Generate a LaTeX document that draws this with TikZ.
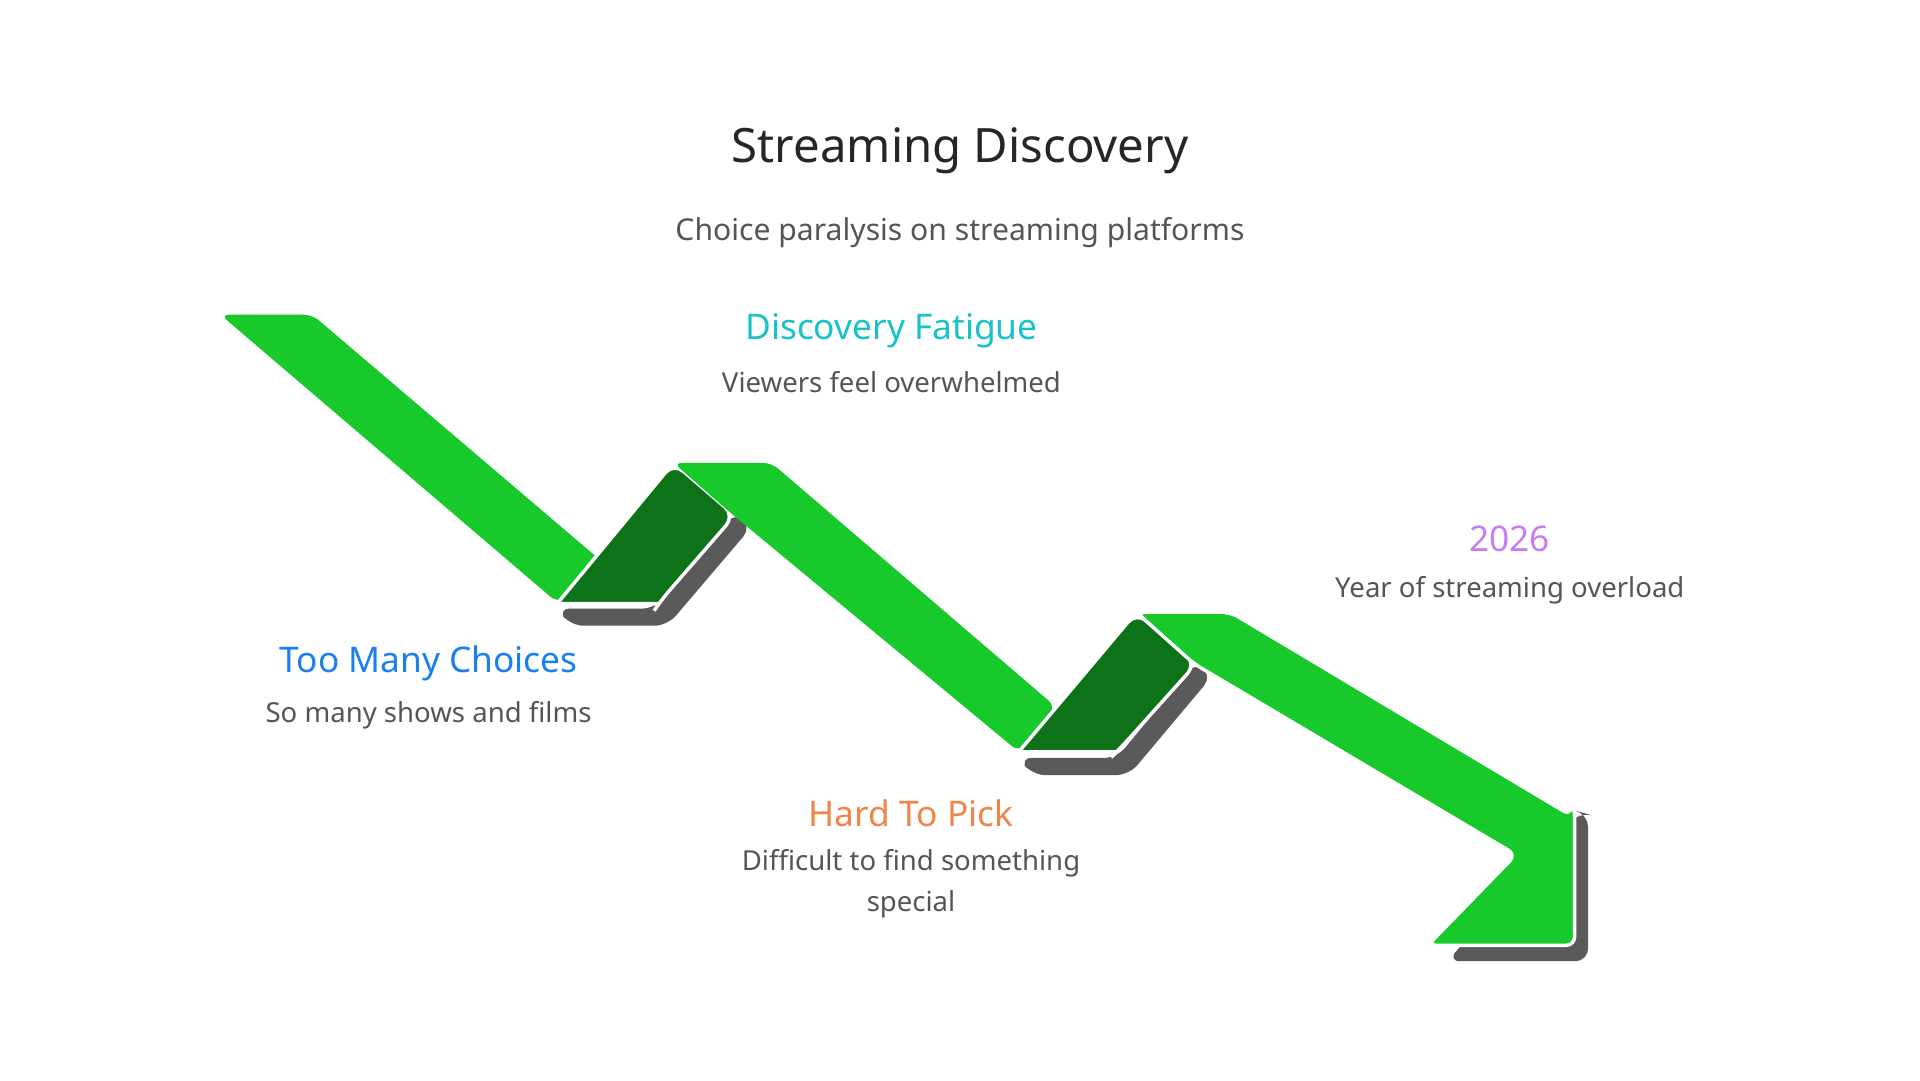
\documentclass[tikz,border=0pt]{standalone}
\usepackage{fontspec}
\setmainfont{Noto Sans}
\definecolor{gr}{HTML}{18C92C}
\definecolor{dg}{HTML}{0E7219}
\definecolor{sh}{HTML}{5A5A5A}
\definecolor{tx}{HTML}{555555}
\definecolor{cteal}{HTML}{17C3C8}
\definecolor{cblue}{HTML}{1A7FF0}
\definecolor{corange}{HTML}{F0844A}
\definecolor{cviolet}{HTML}{C77CF0}
\begin{document}
\begin{tikzpicture}[x=0.1mm,y=-0.1mm,
  band/.style={fill=gr,draw=none},
  fold/.style={fill=dg,draw=white,line width=0.8pt,rounded corners=3pt},
  shad/.style={fill=sh,draw=none,rounded corners=3pt},
  head/.style={font=\fontsize{8.2}{10}\selectfont\bfseries},
  body/.style={font=\fontsize{6.4}{9.5}\selectfont,text=tx,align=center}]
\useasboundingbox[fill=white] (0,0) rectangle (1568,882);
\node (title) at (784,123) {\fontsize{11}{13}\selectfont\color{black!85} Streaming Discovery};
\node (sub) at (784,190) {\fontsize{7}{9}\selectfont\color{tx} Choice paralysis on streaming platforms};
% band 1
\fill[band,rounded corners=2pt] (180,257) -- (255,257) -- (505,470) -- (455,492) -- cycle;
\fill[shad] (455,497) -- (466,511) -- (545,511) -- (614,430) -- (600,418) -- (535,497) -- cycle;
\filldraw[fold] (455,493) -- (550,378) -- (600,421) -- (540,490) [sharp corners] -- (538,493) -- cycle;
% band 2
\fill[band,rounded corners=2pt] (550,378) -- (630,378) -- (862,577) -- (832,614) -- (598,420) -- cycle;
\fill[shad] (832,619) -- (843,633) -- (922,633) -- (990,552) -- (977,540) -- (912,619) -- cycle;
\filldraw[fold] (832,614) -- (928,500) -- (977,542) -- (915,611) [sharp corners] -- (912,614) -- cycle;
% band 3 + arrow
\fill[shad] (1182,785) -- (1297,785) -- (1297,665) -- (1290,663) -- cycle;
\filldraw[band,draw=white,line width=0.8pt,rounded corners=2pt] (928,500) -- (1005,500) -- (1283,666) -- (1283,655) -- (1286,660) -- (1286,772) -- (1166,772) -- (1238,698) -- (975,542) -- cycle;
% texts
\node[head,text=cteal] (df) at (728,270) {Discovery Fatigue};
\node[body] (dfb) at (728,312) {Viewers feel overwhelmed};
\node[head,text=cblue] (tm) at (350,542) {Too Many Choices};
\node[body] (tmb) at (350,584) {So many shows and films};
\node[head,text=corange] (hp) at (744,664) {Hard To Pick};
\node[body] (hpb) at (744,722) {Difficult to find something\\special};
\node[head,text=cviolet] (yr) at (1233,440) {2026};
\node[body] (yrb) at (1233,482) {Year of streaming overload};
\end{tikzpicture}
\end{document}
